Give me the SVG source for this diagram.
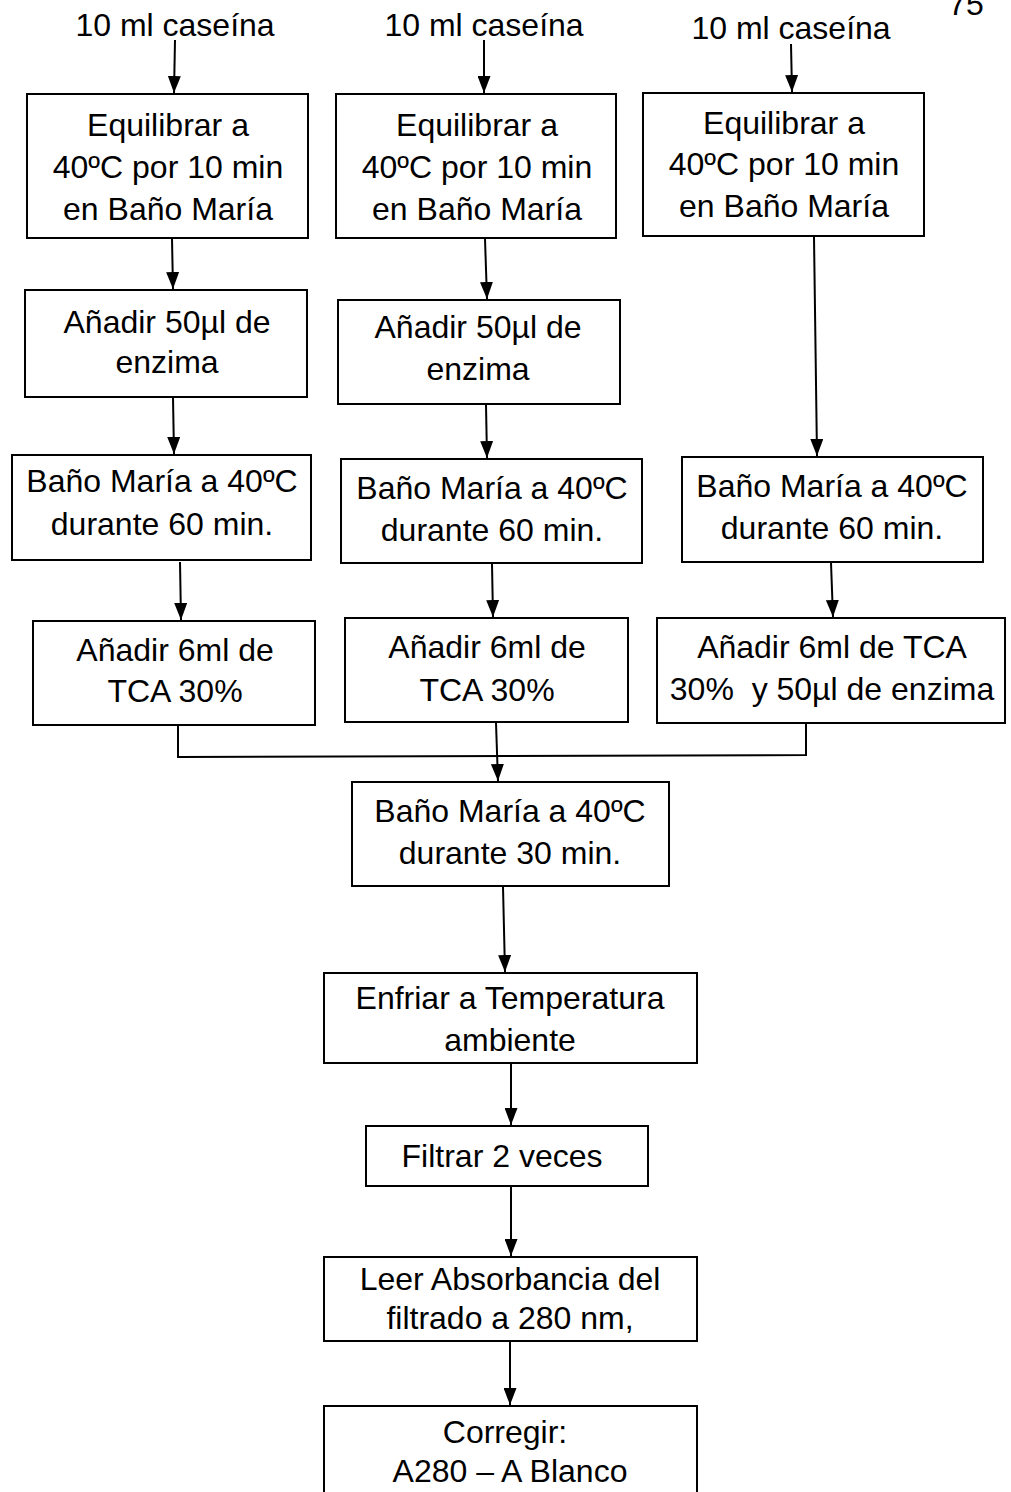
<svg xmlns="http://www.w3.org/2000/svg" width="1011" height="1492" viewBox="0 0 1011 1492">
<defs>
<marker id="ah" viewBox="0 0 17 13" refX="17" refY="6.5" markerWidth="17" markerHeight="13" markerUnits="userSpaceOnUse" orient="auto">
<path d="M0,0 L17,6.5 L0,13 Z" fill="#000"/>
</marker>
<style>
text{font-family:"Liberation Sans",Arial,sans-serif;font-size:32px;fill:#000;text-anchor:middle}
.b{fill:#fff;stroke:#000;stroke-width:2}
.c{fill:none;stroke:#000;stroke-width:2}
.a{fill:none;stroke:#000;stroke-width:2;marker-end:url(#ah)}
</style>
</defs>
<rect width="1011" height="1492" fill="#fff"/>
<text x="966" y="15">75</text>
<g id="connectors">
<path class="a" d="M175,40 L174,93"/>
<path class="a" d="M484,40 L484,93"/>
<path class="a" d="M791,44 L792,92"/>
<path class="a" d="M172,239 L173,289"/>
<path class="a" d="M485,239 L487,299"/>
<path class="a" d="M814,237 L817,456"/>
<path class="a" d="M173,398 L174,454"/>
<path class="a" d="M486,405 L487,458"/>
<path class="a" d="M180,562 L181,620"/>
<path class="a" d="M492,564 L493,617"/>
<path class="a" d="M831,563 L833,617"/>
<path class="c" d="M178,726 L178,757 L806,755 L806,724"/>
<path class="a" d="M496,723 L498,781"/>
<path class="a" d="M503,887 L505,972"/>
<path class="a" d="M511,1064 L511,1125"/>
<path class="a" d="M511,1187 L511,1256"/>
<path class="a" d="M510,1342 L510,1405"/>
</g>
<g id="src1"><text x="175" y="36">10 ml caseína</text></g>
<g id="src2"><text x="484" y="36">10 ml caseína</text></g>
<g id="src3"><text x="791" y="39">10 ml caseína</text></g>
<g id="a1"><rect class="b" x="27" y="94" width="281" height="144"/><text x="168" y="136">Equilibrar a</text><text x="168" y="178">40ºC por 10 min</text><text x="168" y="220">en Baño María</text></g>
<g id="b1"><rect class="b" x="336" y="94" width="280" height="144"/><text x="477" y="136">Equilibrar a</text><text x="477" y="178">40ºC por 10 min</text><text x="477" y="220">en Baño María</text></g>
<g id="c1"><rect class="b" x="643" y="93" width="281" height="143"/><text x="784" y="134">Equilibrar a</text><text x="784" y="175">40ºC por 10 min</text><text x="784" y="217">en Baño María</text></g>
<g id="a2"><rect class="b" x="25" y="290" width="282" height="107"/><text x="167" y="333">Añadir 50µl de</text><text x="167" y="373">enzima</text></g>
<g id="b2"><rect class="b" x="338" y="300" width="282" height="104"/><text x="478" y="338">Añadir 50µl de</text><text x="478" y="380">enzima</text></g>
<g id="a3"><rect class="b" x="12" y="455" width="299" height="105"/><text x="162" y="492">Baño María a 40ºC</text><text x="162" y="535">durante 60 min.</text></g>
<g id="b3"><rect class="b" x="341" y="459" width="301" height="104"/><text x="492" y="499">Baño María a 40ºC</text><text x="492" y="541">durante 60 min.</text></g>
<g id="c3"><rect class="b" x="682" y="457" width="301" height="105"/><text x="832" y="497">Baño María a 40ºC</text><text x="832" y="539">durante 60 min.</text></g>
<g id="a4"><rect class="b" x="33" y="621" width="282" height="104"/><text x="175" y="661">Añadir 6ml de</text><text x="175" y="702">TCA 30%</text></g>
<g id="b4"><rect class="b" x="345" y="618" width="283" height="104"/><text x="487" y="658">Añadir 6ml de</text><text x="487" y="701">TCA 30%</text></g>
<g id="c4"><rect class="b" x="657" y="618" width="348" height="105"/><text x="832" y="658">Añadir 6ml de TCA</text><text x="832" y="700" xml:space="preserve">30%  y 50µl de enzima</text></g>
<g id="d1"><rect class="b" x="352" y="782" width="317" height="104"/><text x="510" y="822">Baño María a 40ºC</text><text x="510" y="864">durante 30 min.</text></g>
<g id="d2"><rect class="b" x="324" y="973" width="373" height="90"/><text x="510" y="1009">Enfriar a Temperatura</text><text x="510" y="1051">ambiente</text></g>
<g id="d3"><rect class="b" x="366" y="1126" width="282" height="60"/><text x="502" y="1167">Filtrar 2 veces</text></g>
<g id="d4"><rect class="b" x="324" y="1257" width="373" height="84"/><text x="510" y="1290">Leer Absorbancia del</text><text x="510" y="1329">filtrado a 280 nm,</text></g>
<g id="d5"><rect class="b" x="324" y="1406" width="373" height="100"/><text x="505" y="1443">Corregir:</text><text x="510" y="1482">A280 – A Blanco</text></g>
</svg>
